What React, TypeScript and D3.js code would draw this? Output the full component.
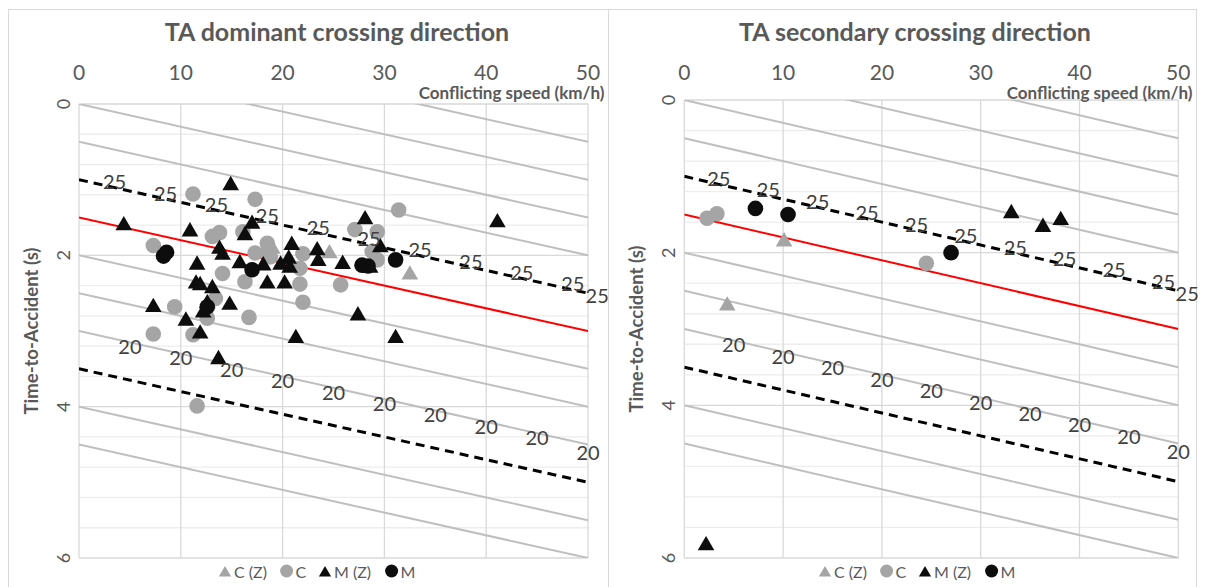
// Two TA / conflicting-speed scatter charts drawn with d3 scales.

import * as d3 from "d3";

const FONT = "Lato, 'Open Sans', sans-serif";

const xTicks = [0, 10, 20, 30, 40, 50];
const yTicks = [0, 2, 4, 6];
const seriesNames = ["C (Z)", "C", "M (Z)", "M"];

// reference lines, TA (s) at 0 km/h and at 50 km/h
const isoStart = [-1, -0.5, 0, 0.5, 2, 2.5, 3, 4, 4.5];
const isoEnd = [0.5, 1, 1.5, 2, 3.5, 4, 4.5, 5.5, 6];
const redStart = [1.5];
const redEnd = [3.0];
const dashStart = [1.0, 3.5];
const dashEnd = [2.5, 5.0];

// value labels along the lines
const lab25X = [3.5, 8.5, 13.5, 18.5, 23.5, 28.5, 33.5, 38.5, 43.5, 48.5, 50.9];
const lab25Y = [1.02, 1.17, 1.32, 1.47, 1.62, 1.77, 1.92, 2.07, 2.22, 2.37, 2.53];
const lab20X = [5, 10, 15, 20, 25, 30, 35, 40, 45, 50];
const lab20Y = [3.2, 3.35, 3.5, 3.65, 3.8, 3.95, 4.1, 4.25, 4.4, 4.6];

// TA dominant crossing direction
const domCZx = [24.6, 32.5, 19.0];
const domCZy = [1.95, 2.23, 1.89];
const domCx = [11.2, 17.3, 13.1, 13.8, 16.1, 7.3, 14.1, 16.3, 17.3, 18.5, 18.5, 18.8, 21.7, 22.0, 21.7, 22.0, 25.7, 27.1, 9.4, 13.4, 16.7, 7.3, 11.2, 12.6, 31.4, 29.3, 28.8, 29.3, 11.6];
const domCy = [1.19, 1.26, 1.75, 1.70, 1.69, 1.87, 2.24, 2.35, 1.97, 1.84, 1.97, 2.02, 2.17, 1.98, 2.38, 2.62, 2.39, 1.66, 2.68, 2.57, 2.82, 3.04, 3.05, 2.83, 1.40, 1.69, 1.95, 2.06, 3.99];
const domMZx = [14.9, 4.4, 10.9, 17.0, 16.3, 13.8, 14.1, 15.8, 18.1, 20.9, 23.4, 23.5, 19.8, 20.6, 20.7, 25.9, 11.6, 18.5, 20.2, 11.5, 11.9, 13.1, 12.6, 14.8, 7.3, 12.2, 10.5, 11.9, 21.3, 27.4, 13.7, 28.1, 41.1, 31.1, 29.6, 28.6];
const domMZy = [1.05, 1.58, 1.66, 1.56, 1.71, 1.89, 1.97, 2.08, 2.11, 1.84, 1.91, 2.05, 2.10, 2.02, 2.14, 2.09, 2.10, 2.35, 2.35, 2.35, 2.37, 2.41, 2.61, 2.63, 2.66, 2.73, 2.84, 3.01, 3.07, 2.77, 3.35, 1.50, 1.54, 3.07, 1.87, 2.14];
const domMx = [8.3, 8.6, 17.0, 12.6, 27.8, 28.4, 31.1];
const domMy = [2.01, 1.96, 2.19, 2.68, 2.13, 2.14, 2.06];

// TA secondary crossing direction
const secCZx = [10.1, 4.35];
const secCZy = [1.83, 2.67];
const secCx = [2.3, 3.3, 24.5];
const secCy = [1.55, 1.49, 2.14];
const secMZx = [33.1, 36.3, 38.1, 2.2];
const secMZy = [1.46, 1.64, 1.55, 5.81];
const secMx = [7.2, 10.5, 27.0];
const secMy = [1.42, 1.5, 2.0];

const GRAY = "#a5a5a5";
const BLACK = "#0d0d0d";
const TEXT = "#595959";

const triPath = d3.symbol(d3.symbolTriangle, 120)();
const triSmall = d3.symbol(d3.symbolTriangle, 65)();

function zip(xs: number[], ys: number[]) {
  return xs.map((x, i) => [x, ys[i]]);
}

function Panel(props) {
  const { id, title, titleX, frame, plot, legendX, data } = props;
  const [left, top, right, bottom] = plot;
  const sx = d3.scaleLinear([0, 50], [left, right]);
  const sy = d3.scaleLinear([0, 6], [top, bottom]);
  const minor = d3.range(0.4, 6, 0.4).filter((v) => Math.abs(v / 2 - Math.round(v / 2)) > 0.01);

  const seg = (a: number[], b: number[]) =>
    a.map((v, i) => ({ x1: sx(0), y1: sy(v), x2: sx(50), y2: sy(b[i]) }));

  const markerSets = [
    { pts: zip(data[0], data[1]), fill: GRAY, tri: true },
    { pts: zip(data[2], data[3]), fill: GRAY, tri: false },
    { pts: zip(data[4], data[5]), fill: BLACK, tri: true },
    { pts: zip(data[6], data[7]), fill: BLACK, tri: false },
  ];
  const legendOff = [0, 61.6, 100, 166.6];

  return (
    <g>
      <rect x={frame[0]} y={frame[1]} width={frame[2]} height={frame[3]} fill="white" stroke="#d9d9d9" />
      <clipPath id={id}>
        <rect x={left} y={top} width={right - left} height={bottom - top} />
      </clipPath>
      <text x={titleX} y={31} textAnchor="middle" dominantBaseline="central" fontSize={25} fontWeight="bold" fill={TEXT}>
        {title}
      </text>

      {/* grid */}
      {minor.map((v) => (
        <line key={`m${v}`} x1={left} x2={right} y1={sy(v)} y2={sy(v)} stroke="#ededed" strokeWidth={1.3} />
      ))}
      {yTicks.map((v) => (
        <line key={`y${v}`} x1={left} x2={right} y1={sy(v)} y2={sy(v)} stroke="#d9d9d9" strokeWidth={1.3} />
      ))}
      {xTicks.map((v) => (
        <line key={`x${v}`} x1={sx(v)} x2={sx(v)} y1={top} y2={bottom} stroke="#d9d9d9" strokeWidth={1.3} />
      ))}

      {/* reference lines */}
      <g clipPath={`url(#${id})`}>
        {seg(isoStart, isoEnd).map((s, i) => (
          <line key={`i${i}`} {...s} stroke="#bfbfbf" strokeWidth={2} />
        ))}
        {seg(redStart, redEnd).map((s, i) => (
          <line key={`r${i}`} {...s} stroke="#ff0000" strokeWidth={2} />
        ))}
        {seg(dashStart, dashEnd).map((s, i) => (
          <line key={`d${i}`} {...s} stroke="#000" strokeWidth={3} strokeDasharray="9 6" />
        ))}
      </g>

      {/* markers */}
      {markerSets.map((set, k) =>
        set.pts.map((p, i) =>
          set.tri ? (
            <path key={`${k}-${i}`} d={triPath} transform={`translate(${sx(p[0])},${sy(p[1]) + 2})`} fill={set.fill} />
          ) : (
            <circle key={`${k}-${i}`} cx={sx(p[0])} cy={sy(p[1])} r={7.8} fill={set.fill} />
          )
        )
      )}

      {/* line labels */}
      <g fontSize={20} fill="#404040" textAnchor="middle" dominantBaseline="central">
        {lab25X.map((x, i) => (
          <text key={`a${i}`} x={sx(x)} y={sy(lab25Y[i])}>25</text>
        ))}
        {lab20X.map((x, i) => (
          <text key={`b${i}`} x={sx(x)} y={sy(lab20Y[i])}>20</text>
        ))}
      </g>

      {/* axes text */}
      <g fontSize={21} fill={TEXT} textAnchor="middle">
        {xTicks.map((v) => (
          <text key={v} x={sx(v)} y={71} dominantBaseline="central">{v}</text>
        ))}
      </g>
      <text x={frame[0] + frame[2] - 4} y={92} textAnchor="end" dominantBaseline="central" fontSize={17} fontWeight="bold" fill={TEXT}>
        Conflicting speed (km/h)
      </text>
      <g fontSize={18} fill={TEXT} textAnchor="middle">
        {yTicks.map((v) => (
          <text key={v} transform={`translate(${left - 16},${sy(v)}) rotate(-90)`} dominantBaseline="central">{v}</text>
        ))}
      </g>
      <text transform={`translate(${left - 48},${(top + bottom) / 2}) rotate(-90)`} textAnchor="middle" dominantBaseline="central" fontSize={18.5} fontWeight="bold" fill={TEXT}>
        Time-to-Accident (s)
      </text>

      {/* legend */}
      <g fontSize={16} fill={TEXT}>
        {seriesNames.map((name, i) => {
          const mx = legendX + legendOff[i];
          const fill = i < 2 ? GRAY : BLACK;
          return (
            <g key={name}>
              {i % 2 === 0 ? (
                <path d={triSmall} transform={`translate(${mx},573)`} fill={fill} />
              ) : (
                <circle cx={mx} cy={571} r={6.5} fill={fill} />
              )}
              <text x={mx + 9} y={571} dominantBaseline="central">{name}</text>
            </g>
          );
        })}
      </g>
    </g>
  );
}

export default function App() {
  return (
    <svg width={1205} height={587} style={{ position: "absolute", left: 0, top: 0, background: "white" }} fontFamily={FONT}>
      <Panel
        id="clip-dom"
        title="TA dominant crossing direction"
        titleX={337}
        frame={[8.5, 9.5, 600, 600]}
        plot={[79, 104, 588, 558]}
        legendX={225}
        data={[domCZx, domCZy, domCx, domCy, domMZx, domMZy, domMx, domMy]}
      />
      <Panel
        id="clip-sec"
        title="TA secondary crossing direction"
        titleX={915}
        frame={[608.5, 9.5, 588, 600]}
        plot={[684.3, 100, 1178.3, 558]}
        legendX={825}
        data={[secCZx, secCZy, secCx, secCy, secMZx, secMZy, secMx, secMy]}
      />
    </svg>
  );
}
